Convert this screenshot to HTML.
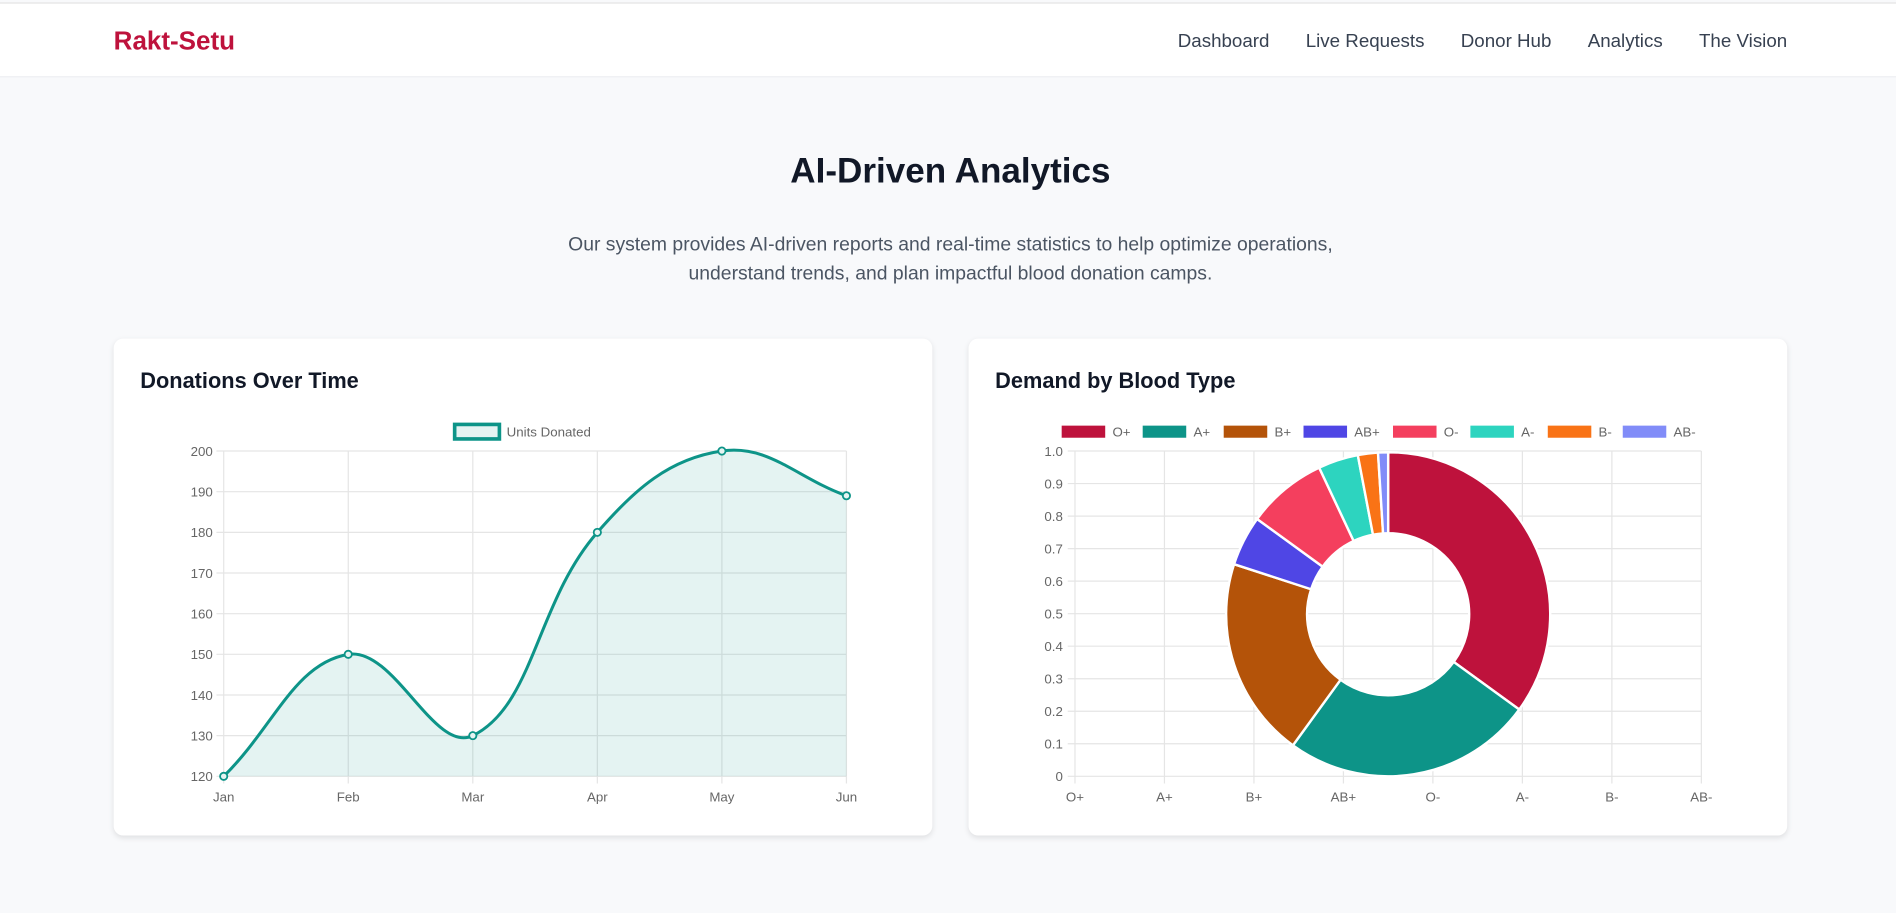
<!DOCTYPE html>
<html><head><meta charset="utf-8">
<style>
html,body{margin:0;padding:0;width:1896px;height:913px;overflow:hidden;background:#f8f9fb;font-family:"Liberation Sans",sans-serif}
#wrap{position:absolute;left:0;top:0;width:1568px;height:755px;transform:scale(1.2092);transform-origin:0 0;background:#f8f9fb}
.nav{position:absolute;left:0;top:2px;width:1568px;height:60px;background:#fff;border-top:1px solid #e3e3e3;border-bottom:1px solid #eceef1}
.logo{position:absolute;left:94px;top:19px;font-size:21.5px;font-weight:bold;color:#be123c}
.links{position:absolute;right:90px;top:23px;font-size:15.5px;color:#374151;display:flex;gap:30px}
h1{position:absolute;left:0;width:1572px;top:126px;margin:0;text-align:center;font-size:29px;color:#111827}
.sub{position:absolute;left:0;width:1572px;top:191px;text-align:center;font-size:16px;line-height:24px;color:#4b5563}
.card{position:absolute;top:280px;width:677px;height:411px;background:#fff;border-radius:8px;box-shadow:0 2px 5px rgba(0,0,0,.1)}
.ct{position:absolute;left:22px;top:25px;font-size:18px;font-weight:bold;color:#111827}
svg{position:absolute;left:0;top:0}
svg text{font-family:"Liberation Sans",sans-serif;font-size:11px;fill:#666}
</style></head><body>
<div id="wrap">
<div class="nav">
<div class="logo">Rakt-Setu</div>
<div class="links">
<span>Dashboard</span>
<span>Live Requests</span>
<span>Donor Hub</span>
<span>Analytics</span>
<span>The Vision</span>
</div>
</div>
<h1>AI-Driven Analytics</h1>
<div class="sub">Our system provides AI-driven reports and real-time statistics to help optimize operations,<br>understand trends, and plan impactful blood donation camps.</div>
<div class="card" style="left:94px"><div class="ct">Donations Over Time</div></div>
<div class="card" style="left:801px"><div class="ct">Demand by Blood Type</div></div>
<svg id="c" width="1568" height="755"></svg>
</div>
<script>
const months=["Jan","Feb","Mar","Apr","May","Jun"];
const donations=[120,150,130,180,200,189];
const yTicks1=[120,130,140,150,160,170,180,190,200];
const types=["O+","A+","B+","AB+","O-","A-","B-","AB-"];
const demand=[35,25,20,5,8,4,2,1];
const yTicks2=["0","0.1","0.2","0.3","0.4","0.5","0.6","0.7","0.8","0.9","1.0"];
const colors=["#be123c","#0d9488","#b45309","#4f46e5","#f43f5e","#2dd4bf","#f97316","#818cf8"];
const NS="http://www.w3.org/2000/svg",svg=document.getElementById('c');
function el(t,a,txt){const e=document.createElementNS(NS,t);for(const k in a)e.setAttribute(k,a[k]);if(txt!=null)e.textContent=txt;svg.appendChild(e);return e;}
const L={x0:185,x1:700,y0:642,y1:373,min:120,max:200};
const lx=i=>L.x0+i*(L.x1-L.x0)/(months.length-1);
const ly=v=>L.y0-(v-L.min)/(L.max-L.min)*(L.y0-L.y1);
yTicks1.forEach(v=>{let g=el('line',{x1:L.x0-6,x2:L.x1,y1:ly(v),y2:ly(v),stroke:'#e5e5e5'});
let t=el('text',{x:L.x0-9,y:ly(v)+4,'text-anchor':'end'},v);});
months.forEach((m,i)=>{let g=el('line',{x1:lx(i),x2:lx(i),y1:L.y1,y2:L.y0+6,stroke:'#e5e5e5'});
let t=el('text',{x:lx(i),y:L.y0+21,'text-anchor':'middle'},m);});
const pts=donations.map((v,i)=>[lx(i),ly(v)]);
const cps=pts.map((p,i)=>{const a=pts[Math.max(0,i-1)],c=pts[Math.min(pts.length-1,i+1)];
const d01=Math.hypot(p[0]-a[0],p[1]-a[1]),d12=Math.hypot(c[0]-p[0],c[1]-p[1]);let fa=d01/(d01+d12)||0,fb=d12/(d01+d12)||0;fa*=0.4;fb*=0.4;
return {p:[p[0]-fa*(c[0]-a[0]),p[1]-fa*(c[1]-a[1])],n:[p[0]+fb*(c[0]-a[0]),p[1]+fb*(c[1]-a[1])]};});
let d='M'+pts[0].join(',');for(let i=1;i<pts.length;i++){const A=cps[i-1].n,B=cps[i].p;d+=`C${A[0]},${Math.min(A[1],L.y0)} ${B[0]},${Math.min(B[1],L.y0)} ${pts[i][0]},${pts[i][1]}`;}
let area=el('path',{d:d+`L${L.x1},${L.y0}L${L.x0},${L.y0}Z`,fill:'rgba(13,148,136,0.11)'});
let line=el('path',{d:d,fill:'none',stroke:'#0d9488','stroke-width':2.5});
pts.forEach(p=>{let c=el('circle',{cx:p[0],cy:p[1],r:3,fill:'#e6f4f2',stroke:'#0d9488','stroke-width':1.5});});
let lb=el('rect',{x:376,y:351,width:37,height:12,fill:'rgba(13,148,136,0.11)',stroke:'#0d9488','stroke-width':3});
let lt=el('text',{x:419,y:361},'Units Donated');
const R={x0:889,x1:1407,y0:642,y1:373};
const rx=i=>R.x0+i*(R.x1-R.x0)/(types.length-1);
yTicks2.forEach((v,i)=>{const y=R.y0-i*(R.y0-R.y1)/(yTicks2.length-1);let g=el('line',{x1:R.x0-6,x2:R.x1,y1:y,y2:y,stroke:'#e5e5e5'});
let t=el('text',{x:R.x0-10,y:y+4,'text-anchor':'end'},v);});
types.forEach((m,i)=>{let g=el('line',{x1:rx(i),x2:rx(i),y1:R.y1,y2:R.y0+6,stroke:'#e5e5e5'});
let t=el('text',{x:rx(i),y:R.y0+21,'text-anchor':'middle'},m);});
const cx=1148,cy=508,ro=134,ri=67,tot=demand.reduce((a,b)=>a+b,0);let ang=0;
demand.forEach((v,i)=>{const a0=ang,a1=ang+v/tot*2*Math.PI;ang=a1;const P=(r,a)=>[cx+r*Math.sin(a),cy-r*Math.cos(a)];const lg=(a1-a0)>Math.PI?1:0;
const p1=P(ro,a0),p2=P(ro,a1),p3=P(ri,a1),p4=P(ri,a0);
let s=el('path',{d:`M${p1}A${ro},${ro} 0 ${lg} 1 ${p2}L${p3}A${ri},${ri} 0 ${lg} 0 ${p4}Z`,fill:colors[i],stroke:'#fff','stroke-width':2});});
const lxs=[878,945,1012,1078,1152,1216,1280,1342];
types.forEach((m,i)=>{let r=el('rect',{x:lxs[i],y:352,width:36,height:10,fill:colors[i]});
let t=el('text',{x:lxs[i]+42,y:361},m);});
</script>
</body></html>
